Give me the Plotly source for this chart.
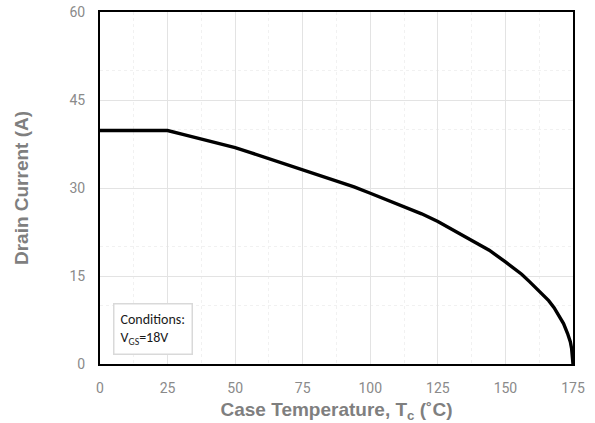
import plotly.graph_objects as go

temperature = [0, 25, 31, 37.5, 44, 50, 56, 62.5, 69, 75, 81, 87.5, 94, 100, 106, 112.5, 119, 125, 131, 137.5,
               144, 150, 153, 156, 159, 162.5, 164.5, 166, 168, 170, 171.5, 173, 174, 174.5, 174.8, 175]
drain_current = [39.8, 39.8, 39.1, 38.3, 37.6, 36.9, 36.0, 35.0, 34.1, 33.1, 32.2, 31.2, 30.2, 29.1, 28.0, 26.8,
                 25.6, 24.3, 22.8, 21.1, 19.4, 17.4, 16.4, 15.3, 14.0, 12.4, 11.6, 10.8, 9.6, 8.1, 6.9, 5.2, 3.8, 2.6, 1.5, 0]

x_ticks = [0, 25, 50, 75, 100, 125, 150, 175]
y_ticks = [0, 15, 30, 45, 60]

fig = go.Figure()
fig.add_trace(go.Scatter(
    x=temperature, y=drain_current, mode="lines",
    line=dict(color="black", width=3.4), showlegend=False,
))

axis_common = dict(
    showline=True, linecolor="black", linewidth=2, mirror=True,
    gridcolor="#e3e3e3", gridwidth=1, zeroline=False,
    tickfont=dict(family="Roboto, Liberation Sans, Arial", size=14, color="#8a8a8a"),
    ticks="", ticklabelstandoff=10,
)

fig.update_xaxes(
    range=[0, 175], tickvals=x_ticks,
    minor=dict(dtick=12.5, tick0=0, showgrid=True, gridcolor="#f1f1f1", griddash="dot", gridwidth=1),
    title=dict(text="Case Temperature, T<sub>c</sub> (˚C)", standoff=10,
               font=dict(family="Liberation Sans, Arial", size=19, color="#7f7f7f", weight="bold")),
    **axis_common,
)
fig.update_yaxes(
    range=[0, 60], tickvals=y_ticks,
    minor=dict(dtick=10, tick0=0, showgrid=True, gridcolor="#f1f1f1", griddash="dot", gridwidth=1),
    title=dict(text="Drain Current (A)", standoff=36,
               font=dict(family="Liberation Sans, Arial", size=19, color="#7f7f7f", weight="bold")),
    **axis_common,
)

fig.add_annotation(
    x=0.028, y=0.173, xref="paper", yref="paper", xanchor="left", yanchor="top",
    text="Conditions:<br>V<sub>GS</sub>=18V", align="left", showarrow=False,
    font=dict(family="Carlito, Open Sans, Liberation Sans", size=14, color="#1a1a1a"),
    bgcolor="white", bordercolor="#d9d9d9", borderwidth=1.5, borderpad=6,
)

fig.update_layout(
    width=595, height=423,
    margin=dict(l=100, r=22, t=12, b=59, autoexpand=False),
    paper_bgcolor="white", plot_bgcolor="white",
)

fig.write_html("out.html")
